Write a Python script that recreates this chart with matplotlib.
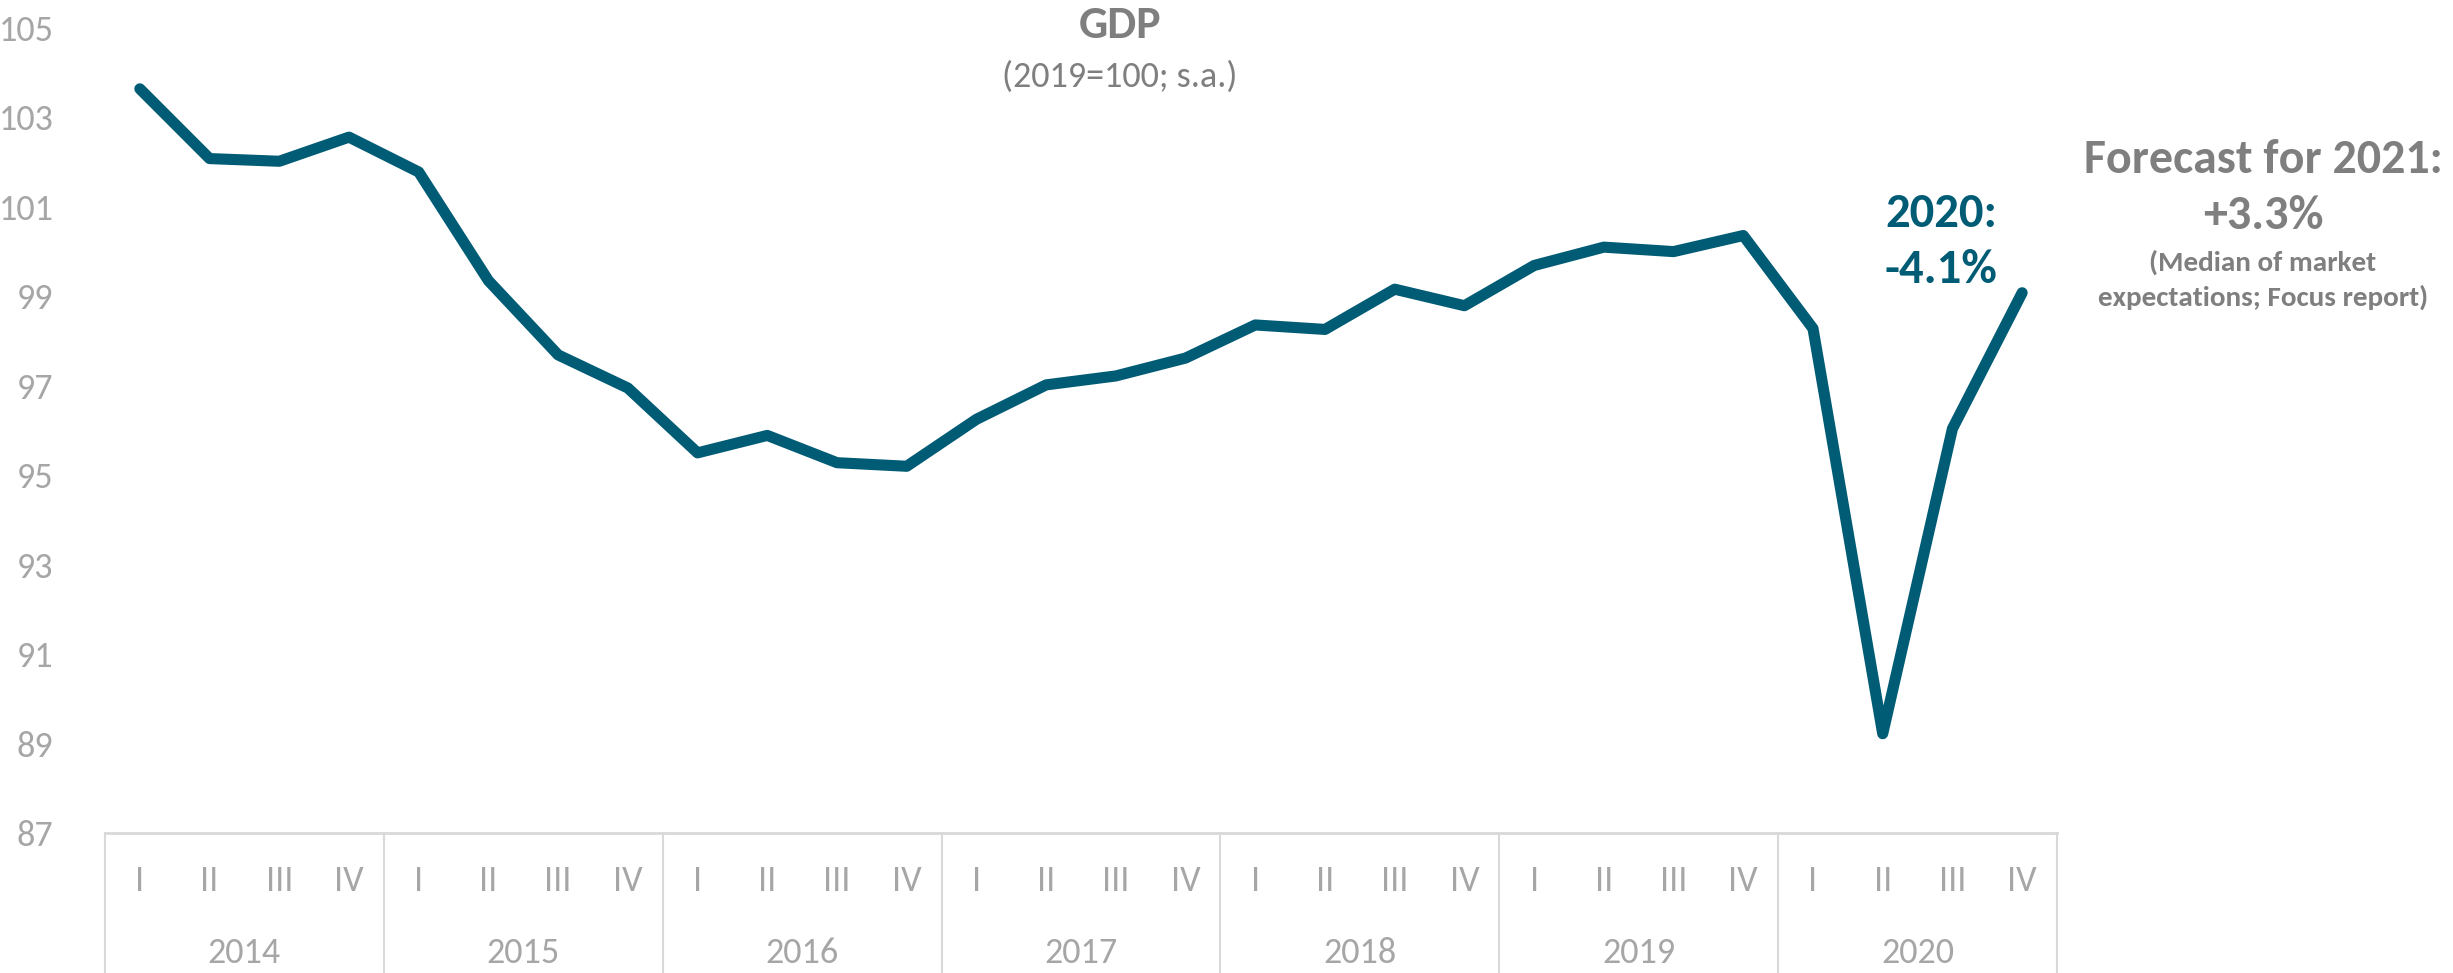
import matplotlib
matplotlib.use("Agg")
import matplotlib.pyplot as plt
from matplotlib import font_manager
import numpy as np


years = ["2014", "2015", "2016", "2017", "2018", "2019", "2020"]
quarters = ["I", "II", "III", "IV"]

# GDP index, 2019 = 100, seasonally adjusted, one value per quarter
gdp = [
    103.64, 102.08, 102.02, 102.56,   # 2014
    101.78, 99.35, 97.69, 96.95,      # 2015
    95.50, 95.89, 95.28, 95.20,       # 2016
    96.25, 97.02, 97.22, 97.62,       # 2017
    98.36, 98.26, 99.16, 98.79,       # 2018
    99.69, 100.10, 100.00, 100.36,    # 2019
    98.28, 89.22, 96.04, 99.08,       # 2020
]
y_ticks = [87, 89, 91, 93, 95, 97, 99, 101, 103, 105]

title = "GDP"
subtitle = "(2019=100; s.a.)"
note_2020 = "2020:\n-4.1%"
forecast_head = "Forecast for 2021:\n+3.3%"
forecast_sub = "(Median of market\nexpectations; Focus report)"

TEAL = "#005b75"
GRAY_TXT = "#7f7f7f"
GRAY_TICK = "#a6a6a6"
GRAY_LINE = "#d9d9d9"

# Calibri look-alike if present, otherwise condensed DejaVu
installed = {f.name for f in font_manager.fontManager.ttflist}
if "Carlito" in installed:
    plt.rcParams["font.family"] = ["Carlito", "DejaVu Sans"]
    fs = 1.0
else:
    plt.rcParams["font.family"] = ["DejaVu Sans"]
    plt.rcParams["font.stretch"] = "condensed"
    fs = 0.88

W, H = 2453, 973
fig = plt.figure(figsize=(W / 100, H / 100), dpi=100)
left, right, top, bottom = 105, 2057, 28, 833
ax = fig.add_axes([left / W, 1 - bottom / H, (right - left) / W, (bottom - top) / H])

x = np.arange(len(gdp))
ax.plot(x, gdp, color=TEAL, lw=8, solid_capstyle="round", solid_joinstyle="round")

ax.set_xlim(-0.5, len(gdp) - 0.5)
ax.set_ylim(y_ticks[0], y_ticks[-1])
ax.set_yticks(y_ticks)
ax.tick_params(axis="y", length=0, pad=37, labelsize=26 * fs, labelcolor=GRAY_TICK)
ax.set_xticks([])
for s in ["top", "right", "left"]:
    ax.spines[s].set_visible(False)
ax.spines["bottom"].set_color(GRAY_LINE)
ax.spines["bottom"].set_linewidth(2)

# two-level category axis: quarters, then years, split by vertical rules
axis_h = bottom - top
depth = (H - bottom) / axis_h
xt = ax.get_xaxis_transform()
for k in range(len(years) + 1):
    ax.plot([k * 4 - 0.5] * 2, [0, -depth], transform=xt, color=GRAY_LINE,
            lw=1.5, clip_on=False)
for i in x:
    ax.text(i, -(881 - bottom) / axis_h, quarters[i % 4], transform=xt,
            ha="center", va="center", fontsize=26 * fs, color=GRAY_TICK)
for k, yr in enumerate(years):
    ax.text(k * 4 + 1.5, -(953 - bottom) / axis_h, yr, transform=xt,
            ha="center", va="center", fontsize=26 * fs, color=GRAY_TICK)

fig.text(1120 / W, 1 - 25 / H, title, ha="center", va="center", fontsize=33 * fs,
         fontweight="bold", color=GRAY_TXT)
fig.text(1120 / W, 1 - 77 / H, subtitle, ha="center", va="center", fontsize=26 * fs,
         color=GRAY_TXT)

fig.text(1941 / W, 1 - 242 / H, note_2020, ha="center", va="center", fontsize=35 * fs,
         fontweight="bold", color=TEAL, linespacing=1.42)
fig.text(2263 / W, 1 - 188 / H, forecast_head, ha="center", va="center",
         fontsize=34.5 * fs, fontweight="bold", color=GRAY_TXT, linespacing=1.42)
fig.text(2263 / W, 1 - 280 / H, forecast_sub, ha="center", va="center",
         fontsize=21 * fs, fontweight="bold", color=GRAY_TXT, linespacing=1.45)

fig.savefig("out.png", dpi=100)
